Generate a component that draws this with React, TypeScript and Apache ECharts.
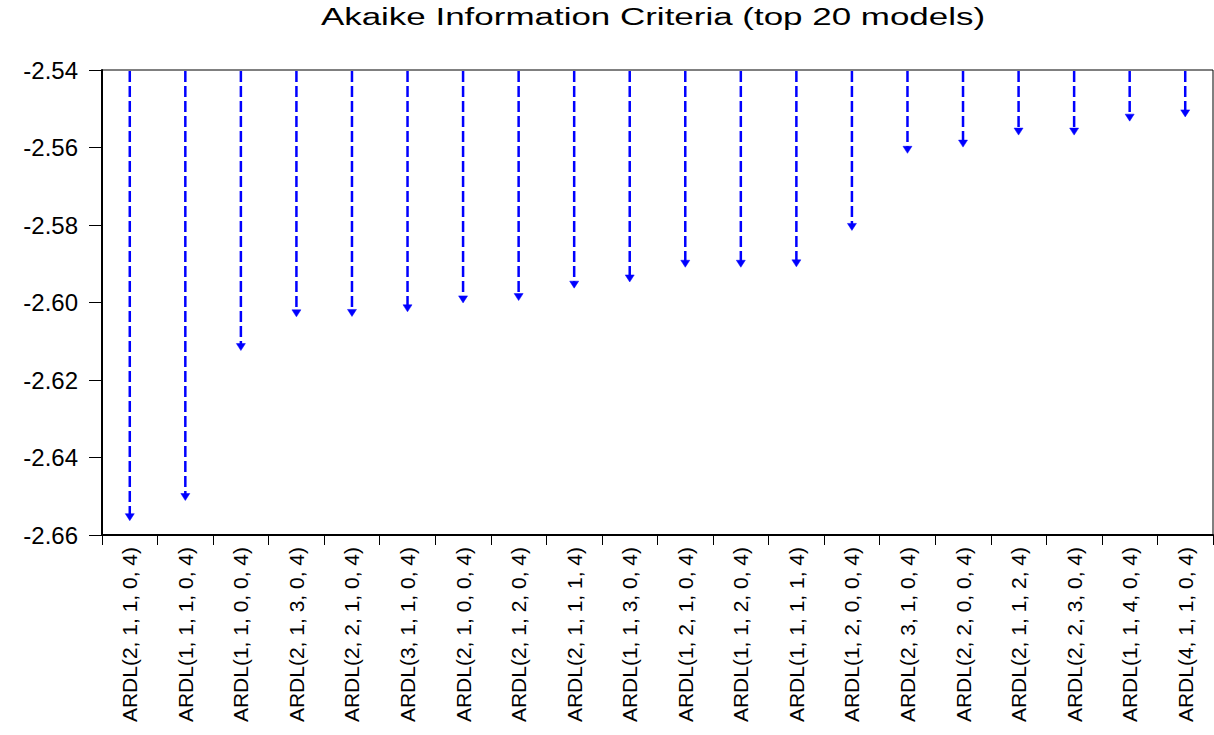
import React, { useEffect, useRef } from "react";
import * as echarts from "echarts";

const titleText = "Akaike Information Criteria (top 20 models)";

const categories = [
  "ARDL(2, 1, 1, 0, 4)",
  "ARDL(1, 1, 1, 0, 4)",
  "ARDL(1, 1, 0, 0, 4)",
  "ARDL(2, 1, 3, 0, 4)",
  "ARDL(2, 2, 1, 0, 4)",
  "ARDL(3, 1, 1, 0, 4)",
  "ARDL(2, 1, 0, 0, 4)",
  "ARDL(2, 1, 2, 0, 4)",
  "ARDL(2, 1, 1, 1, 4)",
  "ARDL(1, 1, 3, 0, 4)",
  "ARDL(1, 2, 1, 0, 4)",
  "ARDL(1, 1, 2, 0, 4)",
  "ARDL(1, 1, 1, 1, 4)",
  "ARDL(1, 2, 0, 0, 4)",
  "ARDL(2, 3, 1, 0, 4)",
  "ARDL(2, 2, 0, 0, 4)",
  "ARDL(2, 1, 1, 2, 4)",
  "ARDL(2, 2, 3, 0, 4)",
  "ARDL(1, 1, 4, 0, 4)",
  "ARDL(4, 1, 1, 0, 4)",
];

const aicValues = [
  -2.6563, -2.6511, -2.6124, -2.6037, -2.6036, -2.6024, -2.6001, -2.5995,
  -2.5963, -2.5947, -2.5909, -2.5909, -2.5908, -2.5814, -2.5615, -2.5599,
  -2.5568, -2.5568, -2.5532, -2.5521,
];

const yMin = -2.66;
const yMax = -2.54;
const yInterval = 0.02;

export default function App() {
  const ref = useRef<HTMLDivElement>(null);

  useEffect(() => {
    if (!ref.current) return;
    const chart = echarts.init(ref.current, null, { renderer: "svg" });
    const font = "'Liberation Sans', Arial, sans-serif";

    const option: any = {
      animation: false,
      backgroundColor: "#ffffff",
      graphic: [
        {
          type: "text",
          x: 653,
          y: 17,
          scaleX: 1.52,
          scaleY: 1,
          style: {
            text: titleText,
            x: 0,
            y: 0,
            fontSize: 23,
            fontFamily: font,
            fill: "#000000",
            textAlign: "center",
            textVerticalAlign: "middle",
          },
        },
      ],
      grid: {
        left: 102,
        right: 1,
        top: 70,
        bottom: 200,
        show: true,
        borderColor: "#000000",
        borderWidth: 1,
        backgroundColor: "transparent",
      },
      xAxis: {
        type: "category",
        data: categories,
        boundaryGap: true,
        axisLine: { show: true, lineStyle: { color: "#000000", width: 2 } },
        axisTick: {
          show: true,
          inside: false,
          length: 10,
          lineStyle: { color: "#000000", width: 1 },
        },
        axisLabel: {
          rotate: 90,
          interval: 0,
          margin: 12,
          fontSize: 21,
          fontFamily: font,
          color: "#000000",
        },
        splitLine: { show: false },
      },
      yAxis: {
        type: "value",
        min: yMin,
        max: yMax,
        interval: yInterval,
        axisLine: { show: true, lineStyle: { color: "#000000", width: 2 } },
        axisTick: {
          show: true,
          inside: false,
          length: 13,
          lineStyle: { color: "#000000", width: 1 },
        },
        axisLabel: {
          margin: 24,
          fontSize: 24,
          fontFamily: font,
          color: "#000000",
          formatter: (v: number) => v.toFixed(2),
        },
        splitLine: { show: false },
      },
      series: [
        {
          type: "custom",
          clip: false,
          data: aicValues.map((v, i) => [i, v]),
          renderItem: (params: any, api: any) => {
            const idx = api.value(0);
            const val = api.value(1);
            const tip = api.coord([idx, val]);
            const top = api.coord([idx, yMax]);
            const headH = 7;
            const headW = 4.5;
            return {
              type: "group",
              children: [
                {
                  type: "line",
                  shape: {
                    x1: tip[0],
                    y1: top[1] + 1,
                    x2: tip[0],
                    y2: tip[1] - headH + 1,
                  },
                  style: {
                    stroke: "#0000ff",
                    lineWidth: 2.5,
                    lineDash: [11, 4],
                  },
                },
                {
                  type: "polygon",
                  shape: {
                    points: [
                      [tip[0] - headW, tip[1] - headH],
                      [tip[0] + headW, tip[1] - headH],
                      [tip[0], tip[1]],
                    ],
                  },
                  style: { fill: "#0000ff", stroke: "#0000ff", lineWidth: 0.5 },
                },
              ],
            };
          },
        },
      ],
    };

    chart.setOption(option);
    return () => {
      chart.dispose();
    };
  }, []);

  return (
    <div
      ref={ref}
      style={{
        position: "fixed",
        left: 0,
        top: 0,
        width: 1214,
        height: 735,
        background: "#ffffff",
      }}
    />
  );
}
